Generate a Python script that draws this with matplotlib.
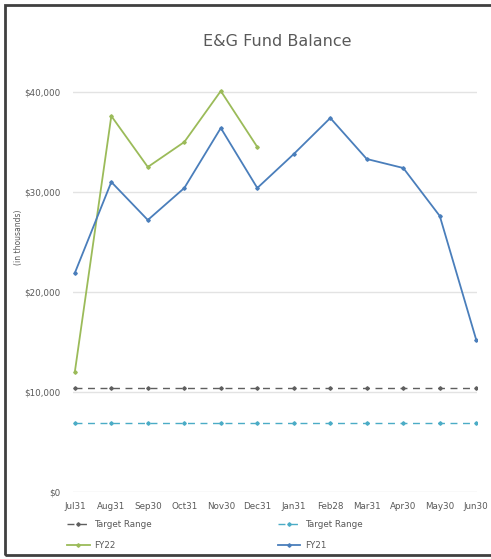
import matplotlib
matplotlib.use('Agg')
import matplotlib.pyplot as plt
from matplotlib.patches import Rectangle
from matplotlib.ticker import FuncFormatter

months = ['Jul31', 'Aug31', 'Sep30', 'Oct31', 'Nov30', 'Dec31',
          'Jan31', 'Feb28', 'Mar31', 'Apr30', 'May30', 'Jun30']
fy21 = [21900, 31000, 27200, 30400, 36400, 30400,
        33800, 37400, 33300, 32400, 27600, 15200]
fy22 = [12000, 37600, 32500, 35000, 40100, 34500]
target_high = [10400] * 12
target_low = [6900] * 12

text_gray = '#595959'

fig = plt.figure(figsize=(4.91, 5.59), dpi=100)
ax = fig.add_axes([73 / 491, 1 - 492 / 559, (477 - 73) / 491, (492 - 62) / 559])

x = list(range(len(months)))
l_th, = ax.plot(x, target_high, color='#5f5f5f', linestyle=(0, (5, 4)), linewidth=1.0,
                marker='D', markersize=1.8, label='Target Range')
l_tl, = ax.plot(x, target_low, color='#4bacc6', linestyle=(0, (5, 4)), linewidth=1.0,
                marker='D', markersize=1.8, label='Target Range')
l_22, = ax.plot(x[:len(fy22)], fy22, color='#9bbb59', linewidth=1.3,
                marker='D', markersize=1.8, label='FY22')
l_21, = ax.plot(x, fy21, color='#4a7ebb', linewidth=1.3,
                marker='D', markersize=1.8, label='FY21')

ax.set_xlim(-0.05, 11.02)
ax.set_ylim(0, 43000)
ax.set_yticks([0, 10000, 20000, 30000, 40000])
ax.yaxis.set_major_formatter(FuncFormatter(lambda v, p: '${:,.0f}'.format(v)))
ax.set_xticks(x)
ax.set_xticklabels(months)
ax.tick_params(axis='both', length=0, labelsize=6.3, colors=text_gray)
ax.tick_params(axis='x', pad=7)
ax.tick_params(axis='y', pad=9)
ax.grid(axis='y', color='#e3e3e3', linewidth=1.0)
ax.set_axisbelow(True)
for s in ax.spines.values():
    s.set_visible(False)

fig.text(277 / 491, 1 - 42 / 559, 'E&G Fund Balance', ha='center', va='center',
         fontsize=11.5, color=text_gray, fontweight='medium')
fig.text(18 / 491, 1 - 237 / 559, '(in thousands)', rotation=90, ha='center', va='center',
         fontsize=5.5, color=text_gray)

fig.legend(handles=[l_th, l_22, l_tl, l_21], ncol=2, loc='upper left',
           bbox_to_anchor=(59 / 491, 1 - 512 / 559), frameon=False,
           fontsize=6.3, labelcolor=text_gray, handlelength=2.6,
           columnspacing=14.4, labelspacing=1.4, handletextpad=0.5)

fig.patches.append(Rectangle((5 / 491, 4 / 559), 1.2, 1 - 9 / 559, transform=fig.transFigure,
                             fill=False, edgecolor='#404040', linewidth=2))

fig.savefig('out.png', dpi=100)
